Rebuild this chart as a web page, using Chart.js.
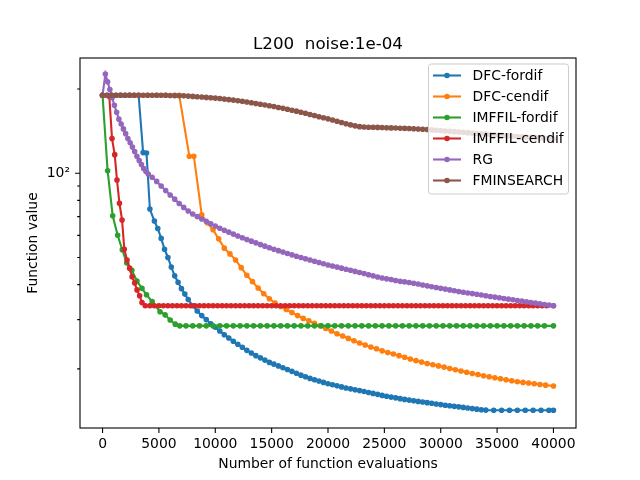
<!DOCTYPE html>
<html>
<head>
<meta charset="utf-8">
<title>L200 noise:1e-04</title>
<script src="https://cdn.jsdelivr.net/npm/chart.js@4.4.1/dist/chart.umd.min.js"></script>
<style>
  html, body { margin: 0; padding: 0; background: #fff; }
</style>
</head>
<body>
<canvas id="lineChart" width="640" height="480"></canvas>
<script>
const chartTitle = "L200  noise:1e-04";
const xAxisLabel = "Number of function evaluations";
const yAxisLabel = "Function value";

const seriesNames = ["DFC-fordif", "DFC-cendif", "IMFFIL-fordif", "IMFFIL-cendif", "RG", "FMINSEARCH"];
const seriesColors = ["#1f77b4", "#ff7f0e", "#2ca02c", "#d62728", "#9467bd", "#8c564b"];

const xTickValues = [0, 5000, 10000, 15000, 20000, 25000, 30000, 35000, 40000];
const yTickValues = [20, 30, 40, 50, 60, 70, 80, 90, 100, 200];

// DFC-fordif
const evalsDfcFordif = [
	0, 400, 800, 1200, 1600, 2000, 2400, 2800, 3200, 3600,
	3900, 4200, 4600, 4900, 5200, 5500, 5800, 6100, 6400, 6700,
	7000, 7300, 7600, 8000, 8400, 8800, 9200, 9600, 10000, 10400,
	10800, 11200, 11600, 12000, 12400, 12800, 13200, 13600, 14000, 14400,
	14800, 15200, 15600, 16000, 16400, 16800, 17200, 17600, 18000, 18400,
	18800, 19200, 19600, 20000, 20400, 20800, 21200, 21600, 22000, 22400,
	22800, 23200, 23600, 24000, 24400, 24800, 25200, 25600, 26000, 26400,
	26800, 27200, 27600, 28000, 28400, 28800, 29200, 29600, 30000, 30400,
	30800, 31200, 31600, 32000, 32400, 32800, 33200, 33600, 34000, 34700,
	35400, 36100, 36800, 37500, 38200, 38900, 39600, 40000
];
const valsDfcFordif = [
	190, 190, 190, 190, 190, 190, 190, 190, 190, 118.5,
	118, 74.5, 67.5, 63.5, 58.5, 53.5, 50, 46.2, 43, 40.8,
	38.7, 37, 35.4, 33.6, 32.2, 31, 30, 29, 28.2, 27.3,
	26.5, 25.8, 25.1, 24.5, 23.9, 23.3, 22.8, 22.3, 21.9, 21.5,
	21.1, 20.8, 20.5, 20.2, 19.9, 19.6, 19.3, 19, 18.75, 18.5,
	18.3, 18.1, 17.9, 17.7, 17.55, 17.4, 17.25, 17.1, 16.97, 16.85,
	16.73, 16.6, 16.48, 16.35, 16.22, 16.08, 15.97, 15.86, 15.76, 15.66,
	15.56, 15.47, 15.39, 15.31, 15.23, 15.15, 15.07, 14.99, 14.91, 14.84,
	14.77, 14.7, 14.64, 14.57, 14.5, 14.43, 14.36, 14.3, 14.25, 14.24,
	14.24, 14.24, 14.24, 14.24, 14.24, 14.24, 14.24, 14.24
];

// DFC-cendif
const evalsDfcCendif = [
	0, 800, 1600, 2400, 3200, 4000, 4800, 5600, 6400, 6800,
	7700, 8100, 8800, 9300, 9800, 10300, 10800, 11300, 11800, 12300,
	12800, 13300, 13800, 14300, 14800, 15300, 15800, 16300, 16800, 17300,
	17800, 18300, 18800, 19300, 19800, 20300, 20800, 21300, 21800, 22300,
	22800, 23300, 23800, 24300, 24800, 25300, 25800, 26300, 26800, 27300,
	27800, 28300, 28800, 29300, 29800, 30300, 30800, 31300, 31800, 32300,
	32800, 33300, 33800, 34300, 34800, 35300, 35800, 36300, 36800, 37300,
	37800, 38300, 38800, 39300, 40000
];
const valsDfcCendif = [
	190, 190, 190, 190, 190, 190, 190, 190, 190, 190,
	115, 115, 71, 66.5, 62.8, 58.3, 54, 51.5, 49, 46,
	43.2, 41, 38.9, 37.1, 35.6, 34.4, 33.4, 32.6, 31.8, 31,
	30.3, 29.7, 29.1, 28.5, 27.9, 27.3, 26.7, 26.2, 25.7, 25.2,
	24.75, 24.35, 23.95, 23.6, 23.2, 22.9, 22.6, 22.3, 22, 21.7,
	21.4, 21.15, 20.9, 20.7, 20.5, 20.3, 20.05, 19.85, 19.65, 19.45,
	19.25, 19.1, 18.9, 18.75, 18.6, 18.45, 18.3, 18.15, 18, 17.9,
	17.8, 17.7, 17.6, 17.5, 17.38
];

// IMFFIL-fordif
const evalsImffilFordif = [
	0, 450, 900, 1340, 1750, 2150, 2600, 3050, 3500, 3900,
	4400, 5100, 5550, 6000, 6450, 6850, 7400, 8000, 8600, 9200,
	9800, 10400, 11000, 11600, 12200, 12800, 13400, 14000, 14600, 15200,
	15800, 16400, 17000, 17600, 18200, 18800, 19400, 20000, 20600, 21200,
	21800, 22400, 23000, 23600, 24200, 24800, 25400, 26000, 26600, 27200,
	27800, 28400, 29000, 29600, 30200, 30800, 31400, 32000, 32600, 33200,
	33800, 34400, 35000, 35600, 36200, 36800, 37400, 38000, 38600, 39200,
	40000
];
const valsImffilFordif = [
	190, 102, 70.5, 60, 53.3, 47.8, 45, 41.2, 38.8, 36.8,
	34.8, 32, 31.2, 29.9, 28.9, 28.5, 28.5, 28.5, 28.5, 28.5,
	28.5, 28.5, 28.5, 28.5, 28.5, 28.5, 28.5, 28.5, 28.5, 28.5,
	28.5, 28.5, 28.5, 28.5, 28.5, 28.5, 28.5, 28.5, 28.5, 28.5,
	28.5, 28.5, 28.5, 28.5, 28.5, 28.5, 28.5, 28.5, 28.5, 28.5,
	28.5, 28.5, 28.5, 28.5, 28.5, 28.5, 28.5, 28.5, 28.5, 28.5,
	28.5, 28.5, 28.5, 28.5, 28.5, 28.5, 28.5, 28.5, 28.5, 28.5,
	28.5
];

// IMFFIL-cendif
const evalsImffilCendif = [
	0, 600, 840, 1080, 1280, 1500, 1730, 1930, 2170, 2400,
	2620, 2850, 3060, 3290, 3500, 3790, 4200, 4600, 5000, 5400,
	5800, 6200, 6600, 7000, 7400, 7800, 8200, 8600, 9000, 9400,
	9800, 10200, 10600, 11000, 11400, 11800, 12200, 12600, 13000, 13400,
	13800, 14200, 14600, 15000, 15400, 15800, 16200, 16600, 17000, 17400,
	17800, 18200, 18600, 19000, 19400, 19800, 20200, 20600, 21000, 21400,
	21800, 22200, 22600, 23000, 23400, 23800, 24200, 24600, 25000, 25400,
	25800, 26200, 26600, 27000, 27400, 27800, 28200, 28600, 29000, 29400,
	29800, 30200, 30600, 31000, 31400, 31800, 32200, 32600, 33000, 33400,
	33800, 34200, 34600, 35000, 35400, 35800, 36200, 36600, 37000, 37400,
	37800, 38200, 38600, 39000, 39400, 40000
];
const valsImffilCendif = [
	190, 188, 133, 116.5, 94.6, 78.1, 68.1, 53.5, 49, 45.8,
	42.7, 40.5, 38.3, 36.5, 34.5, 33.6, 33.6, 33.6, 33.6, 33.6,
	33.6, 33.6, 33.6, 33.6, 33.6, 33.6, 33.6, 33.6, 33.6, 33.6,
	33.6, 33.6, 33.6, 33.6, 33.6, 33.6, 33.6, 33.6, 33.6, 33.6,
	33.6, 33.6, 33.6, 33.6, 33.6, 33.6, 33.6, 33.6, 33.6, 33.6,
	33.6, 33.6, 33.6, 33.6, 33.6, 33.6, 33.6, 33.6, 33.6, 33.6,
	33.6, 33.6, 33.6, 33.6, 33.6, 33.6, 33.6, 33.6, 33.6, 33.6,
	33.6, 33.6, 33.6, 33.6, 33.6, 33.6, 33.6, 33.6, 33.6, 33.6,
	33.6, 33.6, 33.6, 33.6, 33.6, 33.6, 33.6, 33.6, 33.6, 33.6,
	33.6, 33.6, 33.6, 33.6, 33.6, 33.6, 33.6, 33.6, 33.6, 33.6,
	33.6, 33.6, 33.6, 33.6, 33.6, 33.6
];

// RG
const evalsRg = [
	0, 250, 450, 650, 850, 1050, 1250, 1450, 1650, 1850,
	2050, 2250, 2450, 2650, 2850, 3050, 3250, 3450, 3650, 3850,
	4050, 4400, 4800, 5200, 5600, 6000, 6400, 6800, 7200, 7600,
	8000, 8400, 8800, 9200, 9600, 10000, 10400, 10800, 11200, 11600,
	12000, 12400, 12800, 13200, 13600, 14000, 14400, 14800, 15200, 15600,
	16000, 16400, 16800, 17200, 17600, 18000, 18400, 18800, 19200, 19600,
	20000, 20400, 20800, 21200, 21600, 22000, 22400, 22800, 23200, 23600,
	24000, 24400, 24800, 25200, 25600, 26000, 26400, 26800, 27200, 27600,
	28000, 28400, 28800, 29200, 29600, 30000, 30400, 30800, 31200, 31600,
	32000, 32400, 32800, 33200, 33600, 34000, 34400, 34800, 35200, 35600,
	36000, 36400, 36800, 37200, 37600, 38000, 38400, 38800, 39200, 39600,
	40000
];
const valsRg = [
	190, 226, 212, 199, 186, 175, 165, 156, 150, 144,
	138.5, 133, 128.5, 124, 119.5, 115, 111, 107.5, 104, 101.5,
	99.3, 96.8, 93.5, 90, 86.8, 83.6, 80.8, 78, 75.5, 73.3,
	71.5, 70, 68.6, 67.3, 66, 64.8, 63.6, 62.6, 61.6, 60.6,
	59.7, 58.8, 58, 57.2, 56.4, 55.6, 54.9, 54.2, 53.5, 52.9,
	52.3, 51.7, 51.1, 50.5, 50, 49.5, 49, 48.5, 48, 47.5,
	47, 46.6, 46.2, 45.8, 45.4, 45, 44.6, 44.2, 43.8, 43.4,
	43, 42.6, 42.25, 41.95, 41.7, 41.4, 41.1, 40.9, 40.7, 40.45,
	40.2, 39.9, 39.6, 39.3, 39.05, 38.8, 38.55, 38.3, 38.05, 37.8,
	37.55, 37.35, 37.15, 36.95, 36.75, 36.5, 36.3, 36.1, 35.9, 35.7,
	35.5, 35.3, 35.1, 34.95, 34.75, 34.55, 34.35, 34.15, 33.95, 33.8,
	33.6
];

// FMINSEARCH
const evalsFminsearch = [
	0, 400, 800, 1200, 1600, 2000, 2400, 2800, 3200, 3600,
	4000, 4400, 4800, 5200, 5600, 6000, 6400, 6800, 7200, 7600,
	8000, 8400, 8800, 9200, 9600, 10000, 10400, 10800, 11200, 11600,
	12000, 12400, 12800, 13200, 13600, 14000, 14400, 14800, 15200, 15600,
	16000, 16400, 16800, 17200, 17600, 18000, 18400, 18800, 19200, 19600,
	20000, 20400, 20800, 21200, 21600, 22000, 22400, 22800, 23200, 23600,
	24000, 24400, 24800, 25200, 25600, 26000, 26400, 26800, 27200, 27600,
	28000, 28400, 28800, 29200, 29600, 30000, 30400, 30800, 31200, 31600,
	32000, 32400, 32800, 33200, 33600, 34000, 34400, 34800, 35200, 35600,
	36000, 36400, 36800, 37200, 37600, 38000, 38400, 38800, 39200, 39600,
	40000
];
const valsFminsearch = [
	190, 190, 190, 190, 190, 190, 190, 190, 190, 190,
	190, 190, 190, 190, 189.8, 189.6, 189.4, 189.2, 189, 188.6,
	188.1, 187.6, 187.1, 186.6, 186.1, 185.5, 184.8, 184, 183.2, 182.5,
	181.6, 180.7, 179.7, 178.6, 177.5, 176.4, 175.3, 174.2, 173, 171.8,
	170.5, 169.2, 167.9, 166.6, 165.2, 163.7, 162.2, 160.7, 159.2, 157.8,
	156.4, 155, 153.4, 151.8, 150.2, 148.8, 147.6, 146.7, 146.2, 146,
	145.9, 145.8, 145.6, 145.4, 145.2, 145, 144.8, 144.6, 144.4, 144.1,
	143.8, 143.5, 143.2, 142.8, 142.4, 142, 141.6, 141.2, 140.8, 140.4,
	140, 139.6, 139.2, 138.8, 138.4, 138, 137.6, 137.2, 136.8, 136.4,
	136, 135.6, 135.2, 134.9, 134.6, 134.3, 134, 133.7, 133.4, 133.1,
	132.8
];

const seriesEvals = [evalsDfcFordif, evalsDfcCendif, evalsImffilFordif, evalsImffilCendif, evalsRg, evalsFminsearch];
const seriesValues = [valsDfcFordif, valsDfcCendif, valsImffilFordif, valsImffilCendif, valsRg, valsFminsearch];

const FONT = '"DejaVu Sans", sans-serif';
Chart.defaults.font.family = FONT;
Chart.defaults.font.size = 13.9;
Chart.defaults.color = "#000";

function dot(ctx, x, y, color) {
	ctx.beginPath();
	ctx.arc(x, y, 2.1, 0, Math.PI * 2);
	ctx.fillStyle = color;
	ctx.fill();
	ctx.lineWidth = 1.4;
	ctx.strokeStyle = color;
	ctx.stroke();
}

// frame, tick marks, title, axis labels and the boxed legend (matplotlib look)
const axesDecor = {
	id: "axesDecor",
	afterDraw(chart) {
		const { ctx, chartArea: area, scales } = chart;
		ctx.save();

		ctx.strokeStyle = "#000";
		ctx.lineWidth = 1.1;
		ctx.beginPath();
		xTickValues.forEach((v) => {
			const px = scales.x.getPixelForValue(v);
			ctx.moveTo(px, area.bottom);
			ctx.lineTo(px, area.bottom + 4.9);
		});
		yTickValues.forEach((v) => {
			const py = scales.y.getPixelForValue(v);
			const len = v === 100 ? 4.9 : 2.8;
			ctx.moveTo(area.left - len, py);
			ctx.lineTo(area.left, py);
		});
		ctx.stroke();
		ctx.strokeRect(area.left, area.top, area.right - area.left, area.bottom - area.top);

		const midX = (area.left + area.right) / 2;
		ctx.fillStyle = "#000";
		ctx.textAlign = "center";
		ctx.textBaseline = "alphabetic";
		ctx.font = "16.7px " + FONT;
		ctx.fillText(chartTitle, midX, 49.3);
		ctx.font = "13.9px " + FONT;
		ctx.fillText(xAxisLabel, midX, 467.8);
		ctx.save();
		ctx.translate(36.7, (area.top + area.bottom) / 2);
		ctx.rotate(-Math.PI / 2);
		ctx.fillText(yAxisLabel, 0, 0);
		ctx.restore();

		// legend
		const lx = area.right - 147.5, ly = area.top + 6, lw = 140, lh = 130, r = 2.8;
		ctx.beginPath();
		ctx.moveTo(lx + r, ly);
		ctx.arcTo(lx + lw, ly, lx + lw, ly + lh, r);
		ctx.arcTo(lx + lw, ly + lh, lx, ly + lh, r);
		ctx.arcTo(lx, ly + lh, lx, ly, r);
		ctx.arcTo(lx, ly, lx + lw, ly, r);
		ctx.closePath();
		ctx.fillStyle = "rgba(255,255,255,0.8)";
		ctx.fill();
		ctx.strokeStyle = "#cccccc";
		ctx.lineWidth = 1;
		ctx.stroke();

		ctx.textAlign = "left";
		ctx.textBaseline = "middle";
		seriesNames.forEach((name, i) => {
			const cy = ly + 11.5 + i * 21;
			ctx.strokeStyle = seriesColors[i];
			ctx.lineWidth = 2.1;
			ctx.beginPath();
			ctx.moveTo(lx + 4.5, cy);
			ctx.lineTo(lx + 32.5, cy);
			ctx.stroke();
			dot(ctx, lx + 18.5, cy, seriesColors[i]);
			ctx.fillStyle = "#000";
			ctx.fillText(name, lx + 44, cy + 0.5);
		});

		ctx.restore();
	},
};

const ctx1 = document.getElementById("lineChart").getContext("2d");

const data1 = {
	datasets: seriesNames.map((name, i) => ({
		label: name,
		data: seriesEvals[i].map((x, j) => ({ x: x, y: seriesValues[i][j] })),
		borderColor: seriesColors[i],
		backgroundColor: seriesColors[i],
		borderWidth: 2.1,
		pointRadius: 2.1,
		pointBorderWidth: 1.4,
		pointHoverRadius: 2.1,
		tension: 0,
		fill: false,
		order: seriesNames.length - i, // later series drawn on top, as in matplotlib
	})),
};

const config1 = {
	type: "line",
	data: data1,
	options: {
		responsive: false,
		devicePixelRatio: 1,
		animation: false,
		events: [],
		layout: { padding: { top: 58, right: 64, bottom: 0, left: 0 } },
		plugins: {
			legend: { display: false },
			title: { display: false },
			tooltip: { enabled: false },
		},
		scales: {
			x: {
				type: "linear",
				min: -2000,
				max: 42000,
				grid: { display: false, drawTicks: false },
				border: { display: false },
				ticks: {
					autoSkip: false,
					maxRotation: 0,
					padding: 8,
					callback: (v) => String(v),
				},
				afterBuildTicks: (s) => {
					s.ticks = xTickValues.map((v) => ({ value: v }));
				},
				afterFit: (s) => {
					s.height = 52;
				},
			},
			y: {
				type: "logarithmic",
				min: 12.3,
				max: 258,
				grid: { display: false, drawTicks: false },
				border: { display: false },
				ticks: {
					autoSkip: false,
					padding: 10,
					callback: (v) => (v === 100 ? "10²" : ""),
				},
				afterBuildTicks: (s) => {
					s.ticks = yTickValues.map((v) => ({ value: v }));
				},
				afterFit: (s) => {
					s.width = 80;
				},
			},
		},
	},
	plugins: [axesDecor],
};

const lineChart = new Chart(ctx1, config1);
</script>
</body>
</html>
